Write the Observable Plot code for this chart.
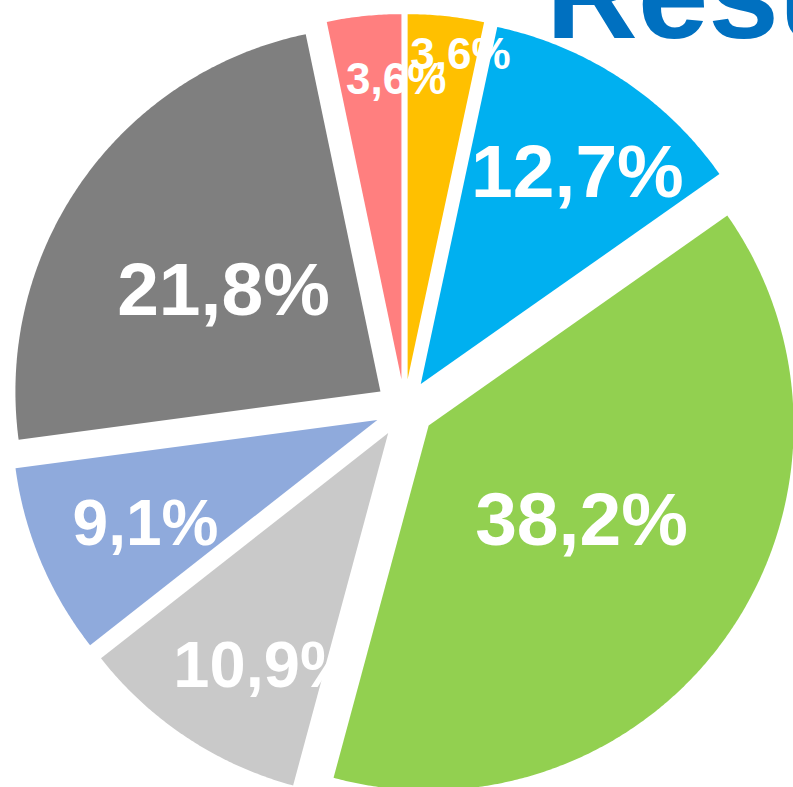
<!DOCTYPE html>
<html>
<head>
<meta charset="utf-8">
<script src="https://cdn.jsdelivr.net/npm/d3@7"></script>
<script src="https://cdn.jsdelivr.net/npm/@observablehq/plot@0.6"></script>
<style>
  html, body { margin: 0; padding: 0; background: #fff; overflow: hidden; }
  #wrap { position: relative; width: 793px; height: 787px; overflow: hidden; }
  #chart { position: absolute; left: 0; top: 0; }
  #title {
    position: absolute; left: 546px; top: -69.5px; margin: 0;
    font: bold 127px "Liberation Sans", Arial, sans-serif;
    line-height: 1; color: #0070C0; white-space: nowrap;
  }
</style>
</head>
<body>
<div id="wrap">
  <div id="chart"></div>
  <h1 id="title">Resultados</h1>
</div>
<script>
// ---- data (clockwise from 12 o'clock) ----
const labels = ["3,6%", "12,7%", "38,2%", "10,9%", "9,1%", "21,8%", "3,6%"];
// slice sizes as drawn in the picture (percent of the full circle)
const shares = [3.36, 11.89, 38.94, 10.22, 8.47, 23.83, 3.28];
const colors = ["#FFC000", "#00B0F0", "#92D050", "#C9C9C9", "#8FAADC", "#7F7F7F", "#FF7F7F"];

// ---- layout settings ----
const explode = 29.5 / 365;                 // explosion, in radius units
const labelAngle = [9.2, 36.3, 121.3, 208, 246.2, 303.4, 359];   // degrees, from slice apex
const labelDist  = [0.905, 0.725, 0.49, 0.716, 0.694, 0.515, 0.825];
const labelSize  = [44, 75, 75, 65, 64, 75, 44];

const pie = d3.pie().sort(null).value(d => d)(shares);
const rad = Math.PI / 180;

const slices = pie.map((a, i) => {
  const mid = (a.startAngle + a.endAngle) / 2;
  const ax = explode * Math.sin(mid), ay = -explode * Math.cos(mid);
  const pts = [{x: ax, y: ay}];
  const n = Math.max(8, Math.ceil((a.endAngle - a.startAngle) / (0.4 * rad)));
  for (let k = 0; k <= n; k++) {
    const t = a.startAngle + (a.endAngle - a.startAngle) * k / n;
    pts.push({x: ax + Math.sin(t), y: ay - Math.cos(t)});
  }
  const la = labelAngle[i] * rad;
  return {
    pts,
    label: {x: ax + labelDist[i] * Math.sin(la), y: ay - labelDist[i] * Math.cos(la), text: labels[i]},
    color: colors[i],
    size: labelSize[i]
  };
});

const R = 365, cx = 404, cy = 408, W = 793, H = 787;

const marks = [
  ...slices.map(s => Plot.line(s.pts, {x: "x", y: "y", fill: s.color, stroke: "none", curve: "linear-closed"})),
  ...slices.map(s => Plot.text([s.label], {
    x: "x", y: "y", text: "text", fill: "white", fontWeight: "bold",
    fontFamily: "'Liberation Sans', Arial, sans-serif", fontSize: s.size,
    textAnchor: "middle", lineAnchor: "middle", dy: 0.038 * s.size
  }))
];

const chart = Plot.plot({
  width: W, height: H,
  margin: 0,
  x: {type: "linear", domain: [-cx / R, (W - cx) / R], range: [0, W], axis: null},
  y: {type: "linear", domain: [-cy / R, (H - cy) / R], range: [0, H], axis: null},
  style: {background: "white", overflow: "visible"},
  marks
});
document.getElementById("chart").appendChild(chart);
</script>
</body>
</html>
